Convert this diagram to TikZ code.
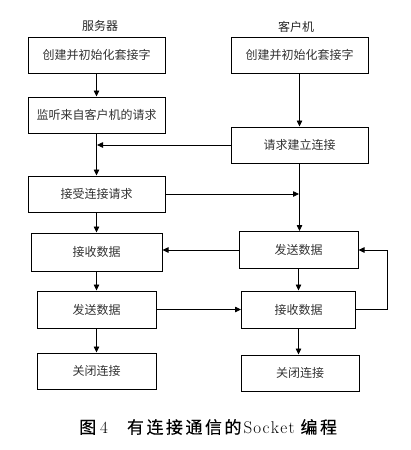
\documentclass[tikz,border=0pt]{standalone}
\usepackage{fontspec}
\newfontfamily\cjk{Noto Sans CJK SC}
\newfontfamily\cjkcap[FakeBold=0.2]{Noto Sans CJK SC}
\usetikzlibrary{arrows.meta}
\begin{document}
\begin{tikzpicture}[x=1pt,y=-1pt,
  box/.style={draw, line width=1pt, rectangle, inner sep=0pt, minimum height=36pt,
    font=\cjk\fontsize{12}{14}\selectfont, text=black!80},
  lbl/.style={font=\cjk\fontsize{12}{14}\selectfont, text=black!85, inner sep=0pt},
  arr/.style={line width=0.8pt, -{Triangle[length=6pt,width=5.5pt]}},
  ln/.style={line width=0.8pt}]
\useasboundingbox (0,0) rectangle (411,450);
% labels
\node[lbl] (ls) at (100,26) {服务器};
\node[lbl] (lc) at (296,27) {客户机};
% server
\node[box, minimum width=137pt] (s1) at (96.5,55) {创建并初始化套接字};
\node[box, minimum width=137pt] (s2) at (96.5,115) {监听来自客户机的请求};
\node[box, minimum width=137pt] (s3) at (96.5,194) {接受连接请求};
\node[box, minimum width=131pt, minimum height=38pt] (s4) at (96.5,252) {接收数据};
\node[box, minimum width=119pt, minimum height=37pt] (s5) at (96.5,309.5) {发送数据};
\node[box, minimum width=119pt] (s6) at (96.5,371) {关闭连接};
% client
\node[box, minimum width=137pt] (c1) at (299.5,55) {创建并初始化套接字};
\node[box, minimum width=137pt] (c2) at (299.5,145) {请求建立连接};
\node[box, minimum width=119pt, minimum height=37pt] (c3) at (298.5,250) {发送数据};
\node[box, minimum width=114pt, minimum height=37pt] (c4) at (298.5,309.5) {接收数据};
\node[box, minimum width=118pt] (c5) at (300,373) {关闭连接};
% server flow
\draw[arr] (s1) -- (s2);
\draw[arr] (s2) -- (s3);
\draw[arr] (s3) -- (s4);
\draw[arr] (s4) -- (s5);
\draw[arr] (s5) -- (s6);
% client flow
\draw[arr] (c1) -- (c2);
\draw[arr] (c2.south) -- (c2.south |- c3.north);
\draw[arr] (c3) -- (c4);
\draw[arr] (c4.south) -- (c4.south |- c5.north);
% cross connections
\draw[arr] (c2.west) -- ([xshift=0.5pt]c2.west -| s2.south);
\draw[arr] (s3.east) -- ([xshift=-0.5pt]s3.east -| c2.south);
\draw[arr] (c3.west) -- (c3.west -| s4.east);
\draw[arr] (s5.east) -- (s5.east -| c4.west);
\draw[arr] (c4.east) -- ++(31,0) |- (c3.east);
% caption
\node[inner sep=0pt, anchor=west] (cap) at (79,427) {\fontsize{17}{20}\selectfont{\cjkcap 图}\hspace{4pt}4\hspace{19pt}{\cjkcap 有\hspace{2.5pt}连\hspace{2.5pt}接\hspace{2.5pt}通\hspace{2.5pt}信\hspace{2.5pt}的}\hspace{2pt}S\kern1.3pt o\kern1.3pt c\kern1.3pt k\kern1.3pt e\kern1.3pt t\hspace{6pt}{\cjkcap 编\hspace{2.5pt}程}};
\end{tikzpicture}
\end{document}
